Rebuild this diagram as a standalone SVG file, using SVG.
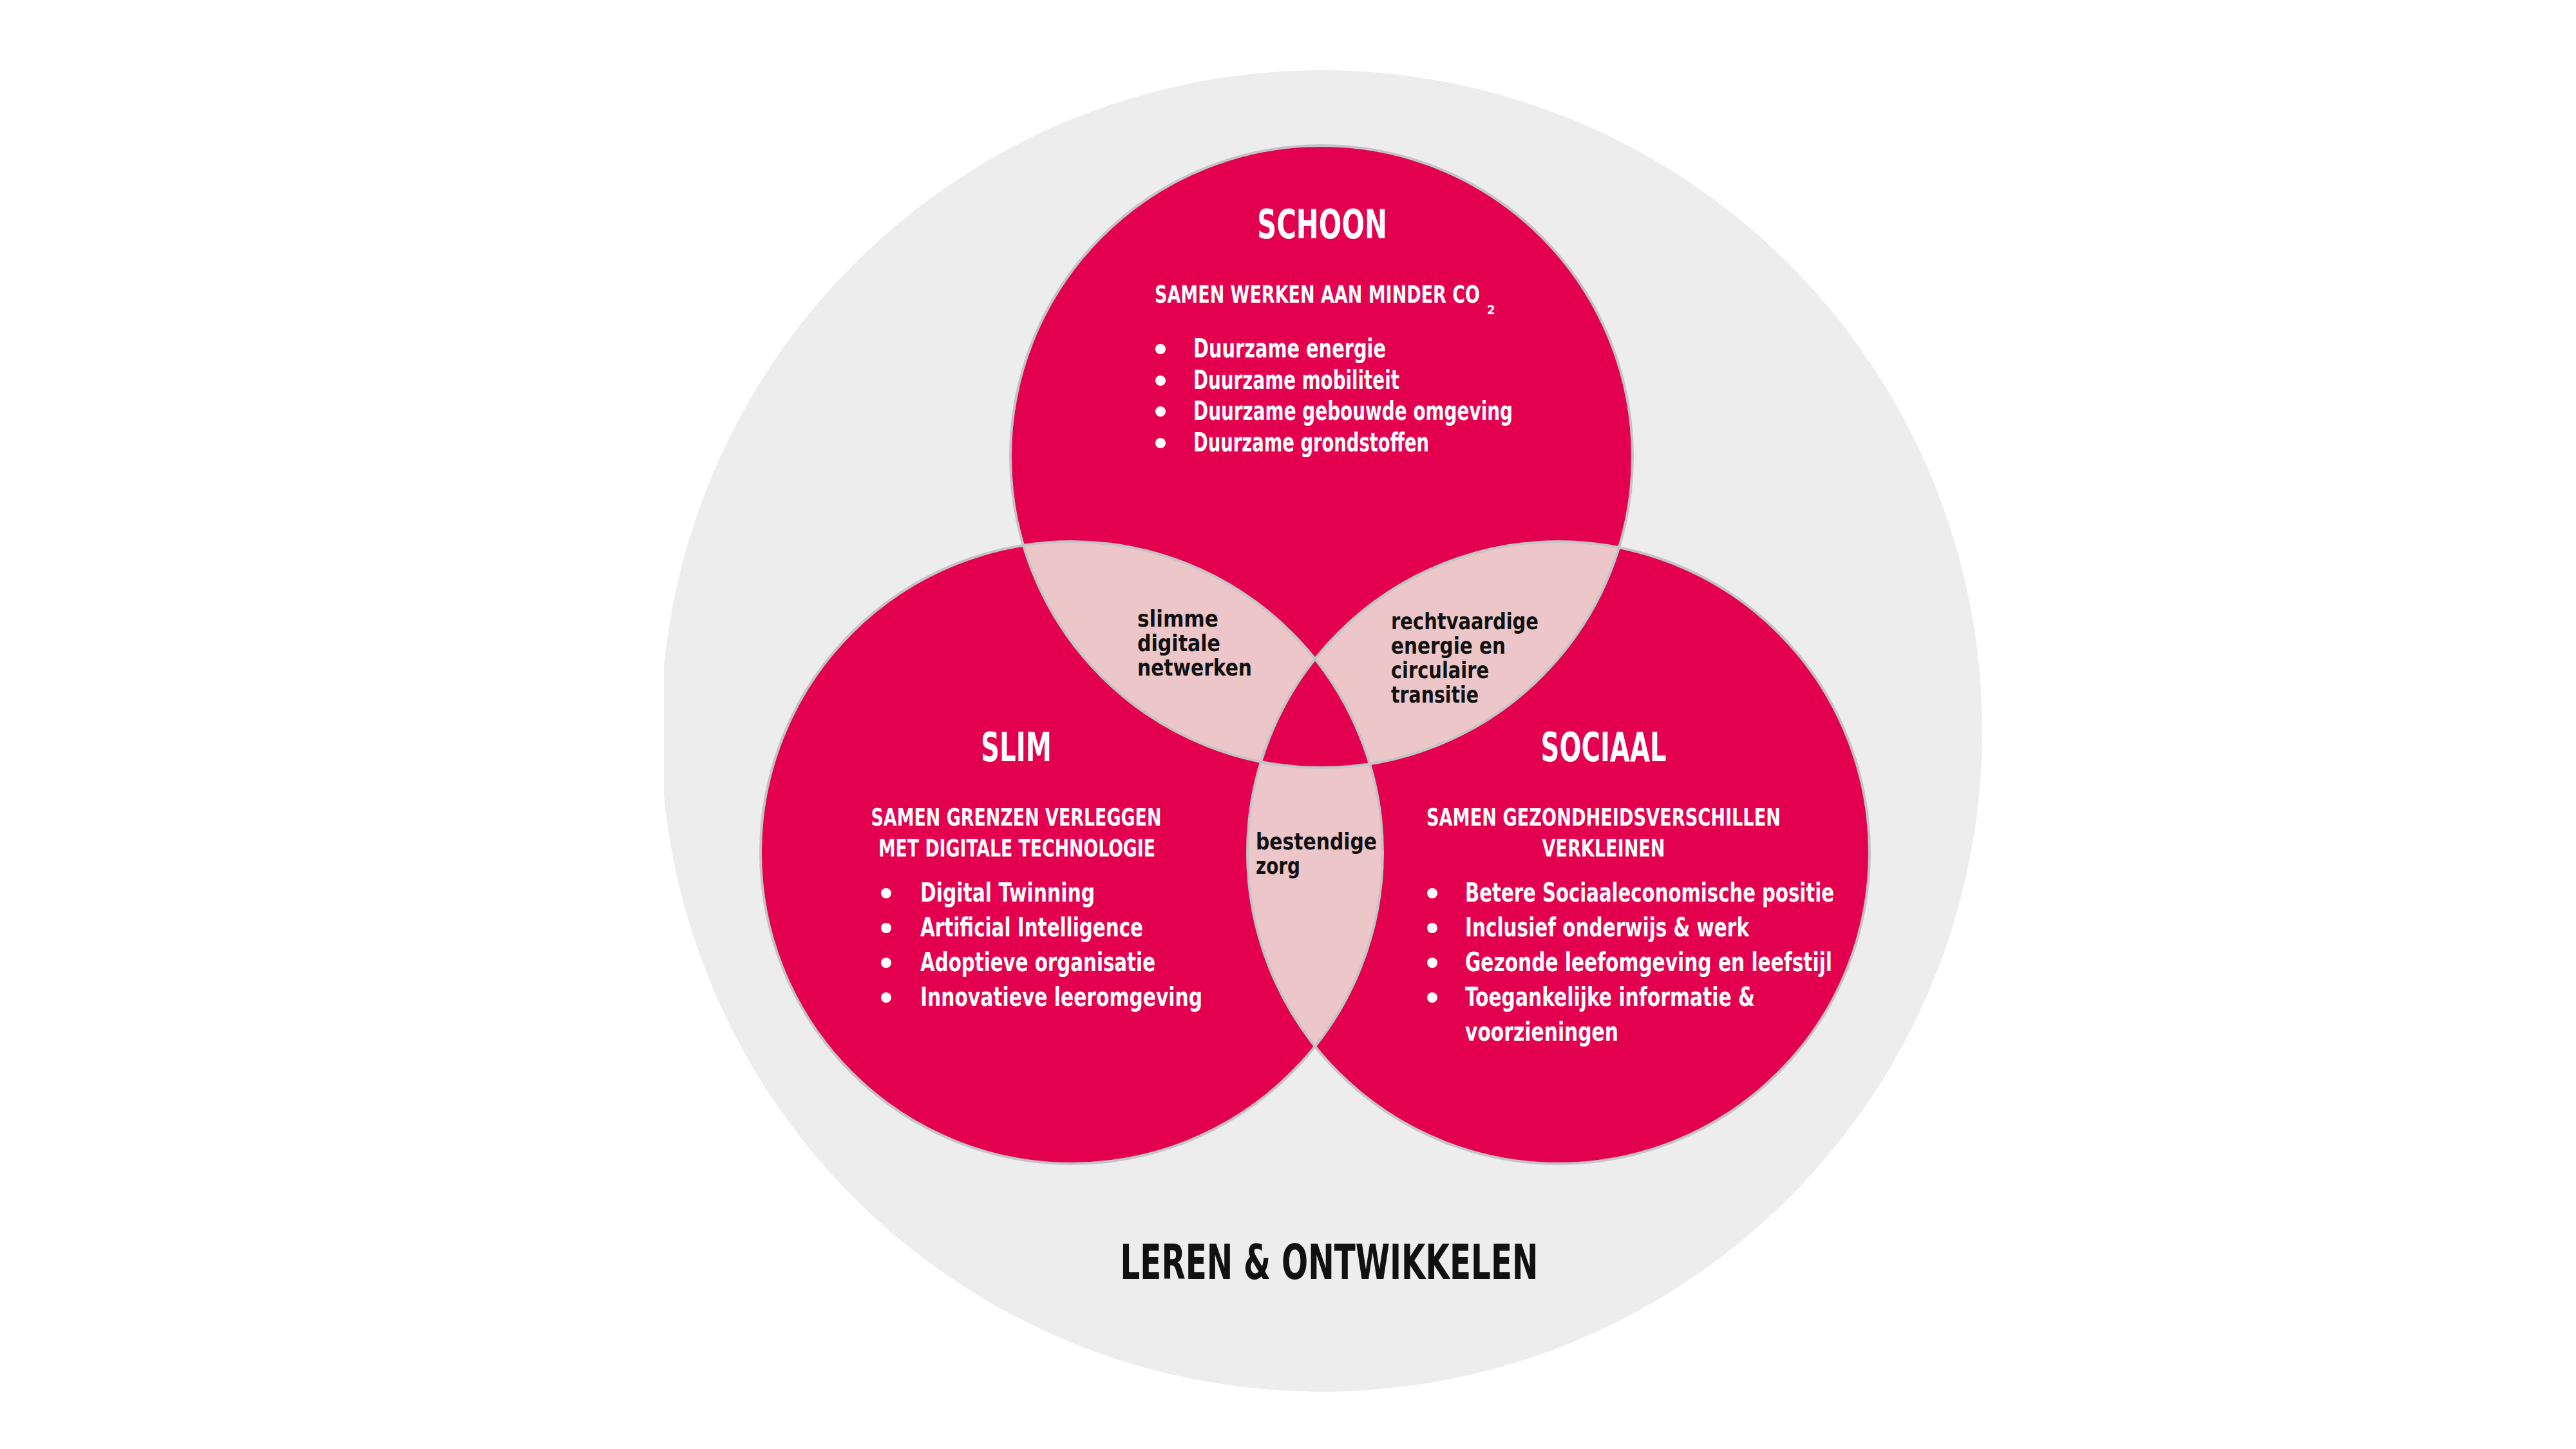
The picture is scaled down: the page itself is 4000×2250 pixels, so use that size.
<svg xmlns="http://www.w3.org/2000/svg" width="4000" height="2250" viewBox="0 0 4000 2250">
<style>
text{font-family:"Liberation Sans Narrow","DejaVu Sans Condensed","Liberation Sans",Arial,sans-serif;font-weight:700}
.w{fill:#ffffff}
.k{fill:#111111}
.title{font-size:62px;text-anchor:middle}
.sub{font-size:38px}
.mid{text-anchor:middle}
.item{font-size:40px}
.lens{font-size:36px}
.main{font-size:74px;text-anchor:middle}
.red{fill:#E3004F}
.pink{fill:#ECC6C8}
.edge{fill:none;stroke:#C4C4C4;stroke-width:4}
.dot{fill:#ffffff}
</style>
<defs>
<clipPath id="cSchoon"><circle cx="2052" cy="709" r="483"/></clipPath>
<clipPath id="cSlim"><circle cx="1664" cy="1324" r="483"/></clipPath>
<clipPath id="cSociaal"><circle cx="2420" cy="1324" r="483"/></clipPath>
<clipPath id="cLeft"><rect x="1031" y="0" width="2969" height="2250"/></clipPath>
</defs>
<rect x="0" y="0" width="4000" height="2250" fill="#ffffff"/>
<g id="leren-ontwikkelen">
<circle cx="2052" cy="1135" r="1026" fill="#EDEDED" clip-path="url(#cLeft)"/>
<text class="main k" x="2064" y="1986" textLength="649" lengthAdjust="spacingAndGlyphs">LEREN &amp; ONTWIKKELEN</text>
</g>
<g id="circles">
<circle id="shape-schoon" class="red" cx="2052" cy="709" r="483"/>
<circle id="shape-slim" class="red" cx="1664" cy="1324" r="483"/>
<circle id="shape-sociaal" class="red" cx="2420" cy="1324" r="483"/>
<g clip-path="url(#cSchoon)"><circle class="pink" cx="1664" cy="1324" r="483"/><circle class="pink" cx="2420" cy="1324" r="483"/></g>
<g clip-path="url(#cSlim)"><circle class="pink" cx="2420" cy="1324" r="483"/></g>
<g clip-path="url(#cSchoon)"><g clip-path="url(#cSlim)"><circle class="red" cx="2420" cy="1324" r="483"/></g></g>
<circle class="edge" cx="2052" cy="709" r="483"/>
<circle class="edge" cx="1664" cy="1324" r="483"/>
<circle class="edge" cx="2420" cy="1324" r="483"/>
</g>
<g id="schoon">
<text class="title w" x="2053" y="370" textLength="202" lengthAdjust="spacingAndGlyphs">SCHOON</text>
<text class="sub w" x="1793" y="470" textLength="505" lengthAdjust="spacingAndGlyphs">SAMEN WERKEN AAN MINDER CO</text>
<text class="w" x="2309" y="488" font-size="20">2</text>
<circle class="dot" cx="1802" cy="542" r="8"/>
<circle class="dot" cx="1802" cy="591" r="8"/>
<circle class="dot" cx="1802" cy="639" r="8"/>
<circle class="dot" cx="1802" cy="688" r="8"/>
<text class="item w" x="1853" y="555" textLength="299" lengthAdjust="spacingAndGlyphs">Duurzame energie</text>
<text class="item w" x="1853" y="604" textLength="320" lengthAdjust="spacingAndGlyphs">Duurzame mobiliteit</text>
<text class="item w" x="1853" y="652" textLength="496" lengthAdjust="spacingAndGlyphs">Duurzame gebouwde omgeving</text>
<text class="item w" x="1853" y="701" textLength="366" lengthAdjust="spacingAndGlyphs">Duurzame grondstoffen</text>
</g>
<g id="slim">
<text class="title w" x="1578" y="1182" textLength="110" lengthAdjust="spacingAndGlyphs">SLIM</text>
<text class="sub mid w" x="1578" y="1282" textLength="451" lengthAdjust="spacingAndGlyphs">SAMEN GRENZEN VERLEGGEN</text>
<text class="sub mid w" x="1579" y="1330" textLength="430" lengthAdjust="spacingAndGlyphs">MET DIGITALE TECHNOLOGIE</text>
<circle class="dot" cx="1376" cy="1387" r="8"/>
<circle class="dot" cx="1376" cy="1441" r="8"/>
<circle class="dot" cx="1376" cy="1495" r="8"/>
<circle class="dot" cx="1376" cy="1549" r="8"/>
<text class="item w" x="1429" y="1400" textLength="271" lengthAdjust="spacingAndGlyphs">Digital Twinning</text>
<text class="item w" x="1429" y="1454" textLength="346" lengthAdjust="spacingAndGlyphs">Artificial Intelligence</text>
<text class="item w" x="1429" y="1508" textLength="365" lengthAdjust="spacingAndGlyphs">Adoptieve organisatie</text>
<text class="item w" x="1429" y="1562" textLength="438" lengthAdjust="spacingAndGlyphs">Innovatieve leeromgeving</text>
</g>
<g id="sociaal">
<text class="title w" x="2490" y="1182" textLength="195" lengthAdjust="spacingAndGlyphs">SOCIAAL</text>
<text class="sub mid w" x="2490" y="1282" textLength="550" lengthAdjust="spacingAndGlyphs">SAMEN GEZONDHEIDSVERSCHILLEN</text>
<text class="sub mid w" x="2490" y="1330" textLength="191" lengthAdjust="spacingAndGlyphs">VERKLEINEN</text>
<circle class="dot" cx="2224" cy="1387" r="8"/>
<circle class="dot" cx="2224" cy="1441" r="8"/>
<circle class="dot" cx="2224" cy="1495" r="8"/>
<circle class="dot" cx="2224" cy="1549" r="8"/>
<text class="item w" x="2275" y="1400" textLength="573" lengthAdjust="spacingAndGlyphs">Betere Sociaaleconomische positie</text>
<text class="item w" x="2275" y="1454" textLength="441" lengthAdjust="spacingAndGlyphs">Inclusief onderwijs &amp; werk</text>
<text class="item w" x="2275" y="1508" textLength="570" lengthAdjust="spacingAndGlyphs">Gezonde leefomgeving en leefstijl</text>
<text class="item w" x="2275" y="1562" textLength="450" lengthAdjust="spacingAndGlyphs">Toegankelijke informatie &amp;</text>
<text class="item w" x="2275" y="1616" textLength="238" lengthAdjust="spacingAndGlyphs">voorzieningen</text>
</g>
<g id="slimme-digitale-netwerken">
<text class="lens k" x="1766" y="973" textLength="126" lengthAdjust="spacingAndGlyphs">slimme</text>
<text class="lens k" x="1766" y="1011" textLength="129" lengthAdjust="spacingAndGlyphs">digitale</text>
<text class="lens k" x="1766" y="1049" textLength="178" lengthAdjust="spacingAndGlyphs">netwerken</text>
</g>
<g id="rechtvaardige-transitie">
<text class="lens k" x="2160" y="977" textLength="229" lengthAdjust="spacingAndGlyphs">rechtvaardige</text>
<text class="lens k" x="2160" y="1015" textLength="178" lengthAdjust="spacingAndGlyphs">energie en</text>
<text class="lens k" x="2160" y="1053" textLength="152" lengthAdjust="spacingAndGlyphs">circulaire</text>
<text class="lens k" x="2160" y="1091" textLength="136" lengthAdjust="spacingAndGlyphs">transitie</text>
</g>
<g id="bestendige-zorg">
<text class="lens k" x="1950" y="1319" textLength="188" lengthAdjust="spacingAndGlyphs">bestendige</text>
<text class="lens k" x="1950" y="1357" textLength="69" lengthAdjust="spacingAndGlyphs">zorg</text>
</g>
</svg>
